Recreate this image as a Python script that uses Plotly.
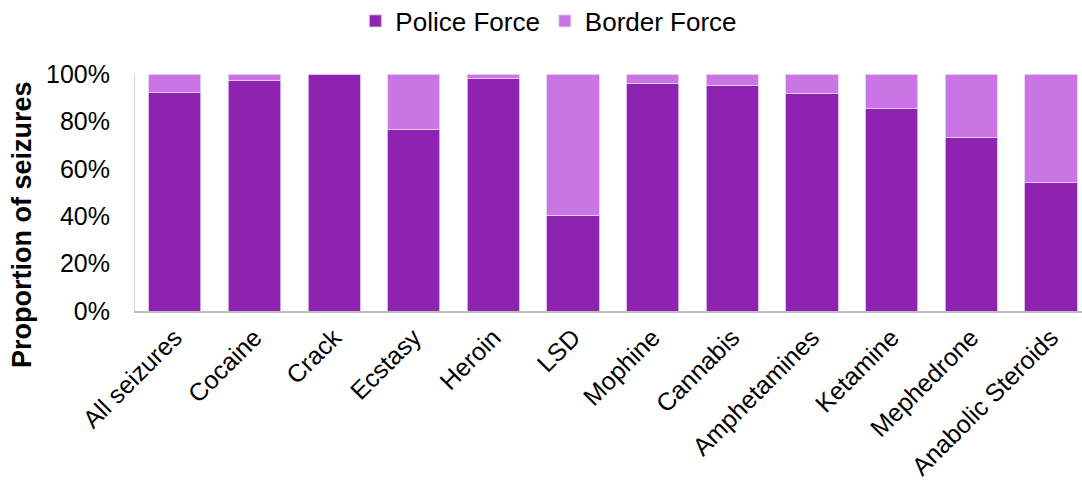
import plotly.graph_objects as go

categories = ["All seizures", "Cocaine", "Crack", "Ecstasy", "Heroin", "LSD", "Mophine",
              "Cannabis", "Amphetamines", "Ketamine", "Mephedrone", "Anabolic Steroids"]
police_force = [92.4, 97.3, 99.7, 76.7, 97.9, 40.3, 96.2, 95.2, 91.9, 85.5, 73.4, 54.4]
border_force = [7.6, 2.7, 0.3, 23.3, 2.1, 59.7, 3.8, 4.8, 8.1, 14.5, 26.6, 45.6]
y_ticks = [0, 20, 40, 60, 80, 100]

FONT = "Liberation Sans, Arial, sans-serif"

fig = go.Figure()
fig.add_trace(go.Bar(x=categories, y=police_force, name="Police Force",
                     marker=dict(color="#8E22B1", line=dict(color="rgba(220,180,235,0.9)", width=1))))
fig.add_trace(go.Bar(x=categories, y=border_force, name="Border Force",
                     marker=dict(color="#C976E4", line=dict(color="rgba(235,205,245,0.9)", width=1))))

W, H = 1082, 493
L, R, T, B = 135, 0, 74, 182

fig.update_layout(
    barmode="stack",
    bargap=0.345,
    width=W, height=H,
    margin=dict(l=L, r=R, t=T, b=B, pad=0, autoexpand=False),
    paper_bgcolor="white", plot_bgcolor="white",
    font=dict(family=FONT, size=25, color="#000000"),
    legend=dict(orientation="h", x=0.437, xanchor="center", y=1 + (T - 21) / (H - T - B),
                yanchor="middle", font=dict(size=26, color="#000000"),
                itemwidth=30, traceorder="normal", bgcolor="rgba(0,0,0,0)"),
    showlegend=True,
)
fig.update_xaxes(
    range=[-0.5, 11.39], tickangle=-45, showgrid=False,
    showline=True, linecolor="#BFBFBF", linewidth=2, mirror=False,
    ticks="", tickfont=dict(size=25, family=FONT, color="#000000"),
)
fig.update_yaxes(
    range=[0, 100], tickvals=y_ticks, ticktext=[f"{v}%" for v in y_ticks],
    showgrid=False, zeroline=False,
    showline=True, linecolor="#D9D9D9", linewidth=1, mirror=True,
    ticks="", ticklabelstandoff=19, tickfont=dict(size=25, family=FONT, color="#000000"),
)
fig.add_annotation(
    text="<b>Proportion of seizures</b>", textangle=-90,
    xref="paper", yref="paper",
    x=-(L - 22) / (W - L - R), xanchor="center",
    y=1 - (225 - T) / (H - T - B), yanchor="middle",
    showarrow=False, font=dict(size=27, family=FONT, color="#000000"),
)
fig.write_html("out.html", config={"displayModeBar": False},
               post_script="document.body.style.margin='0';document.body.style.overflow='hidden';")
